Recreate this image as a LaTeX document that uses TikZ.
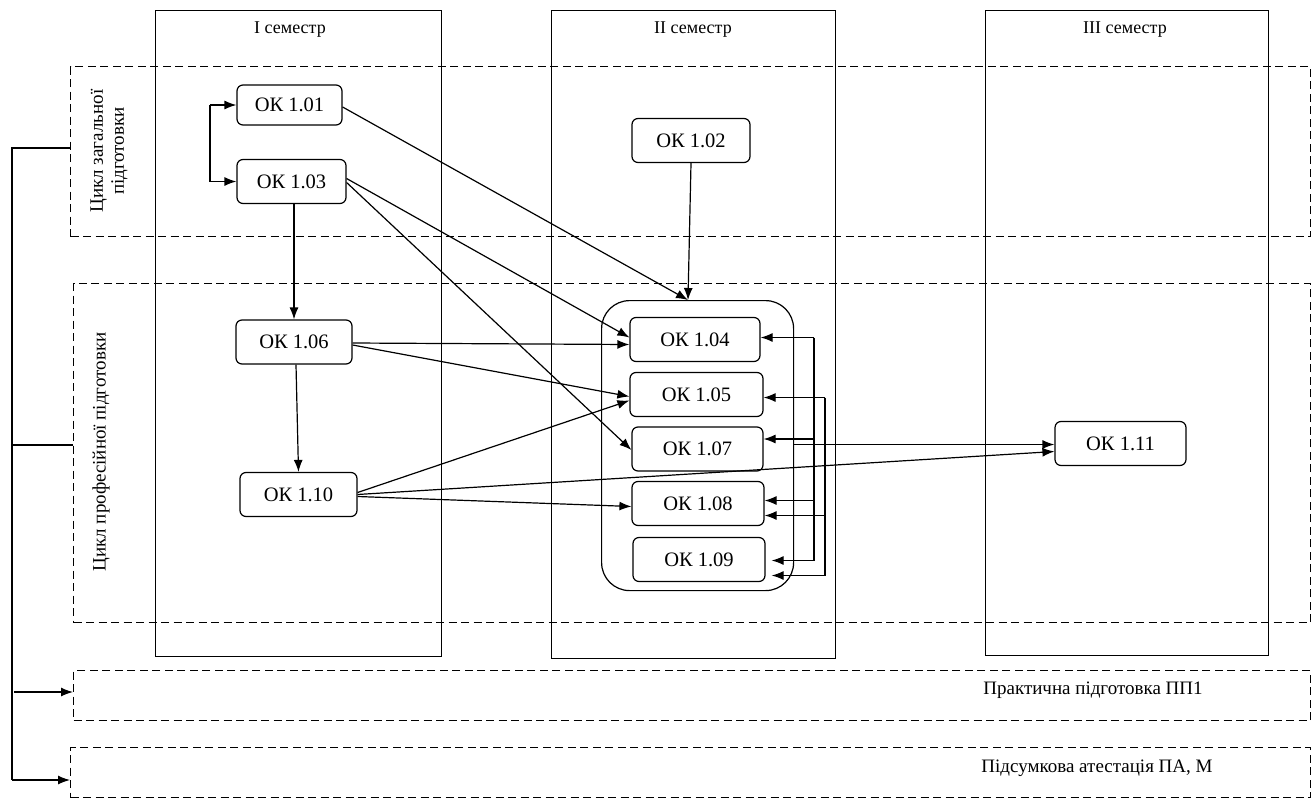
\documentclass[tikz,border=0pt]{standalone}
\usepackage{fontspec}
\setmainfont{Liberation Serif}
\usetikzlibrary{arrows.meta}
\begin{document}
\begin{tikzpicture}[x=1pt,y=-1pt,
  line width=1.2pt,
  every node/.style={font=\fontsize{19}{21}\selectfont},
  ok/.style={draw, rounded corners=6pt, fill=white, minimum height=44, inner sep=0pt, font=\fontsize{20.5}{23}\selectfont},
  col/.style={draw, anchor=north west, inner sep=0pt},
  dbox/.style={draw, dash pattern=on 8pt off 4.5pt, anchor=north west, inner sep=0pt},
  arr/.style={-{Latex[length=12pt,width=9pt]}},
  lbl/.style={inner sep=0pt}]
\useasboundingbox (0,0) rectangle (1315,798);
% semester columns
\node[col, minimum width=286, minimum height=646] (c1) at (155,10) {};
\node[col, minimum width=284, minimum height=648] (c2) at (551,10) {};
\node[col, minimum width=283, minimum height=645] (c3) at (985,10) {};
\node[lbl, font=\fontsize{18}{21}\selectfont] (t1) at (290,30) {I семестр};
\node[lbl, font=\fontsize{18}{21}\selectfont] (t2) at (693,30) {II семестр};
\node[lbl, font=\fontsize{18}{21}\selectfont] (t3) at (1125,30) {III семестр};
% dashed cycle boxes
\node[dbox, minimum width=1240, minimum height=170] (gen) at (70,66) {};
\node[dbox, minimum width=1237, minimum height=339] (prof) at (73,283) {};
\node[dbox, minimum width=1237, minimum height=50] (prac) at (73,670) {};
\node[dbox, minimum width=1240, minimum height=50] (fin) at (70,747) {};
\node[lbl, rotate=90, align=center] (lg) at (109,151) {Цикл загальної\\підготовки};
\node[lbl, rotate=90] (lp) at (101,452) {Цикл професійної підготовки};
\node[lbl] (tp) at (1093,690) {Практична підготовка ПП1};
\node[lbl] (tf) at (1097,768) {Підсумкова атестація ПА, М};
% container
\node[draw, rounded corners=28pt, anchor=north west, minimum width=192, minimum height=290, inner sep=0pt] (cont) at (601,300) {};
% course nodes
\node[ok, minimum width=105, minimum height=40] (o101) at (289.5,105) {ОК 1.01};
\node[ok, minimum width=109] (o103) at (291.5,181.5) {ОК 1.03};
\node[ok, minimum width=118] (o102) at (691,140.5) {ОК 1.02};
\node[ok, minimum width=116] (o106) at (294,342) {ОК 1.06};
\node[ok, minimum width=117] (o110) at (298.5,494.5) {ОК 1.10};
\node[ok, minimum width=130] (o104) at (695,339.5) {ОК 1.04};
\node[ok, minimum width=133] (o105) at (696.5,394.5) {ОК 1.05};
\node[ok, minimum width=131] (o107) at (697.5,449) {ОК 1.07};
\node[ok, minimum width=132] (o108) at (698,503.5) {ОК 1.08};
\node[ok, minimum width=132] (o109) at (699,559.5) {ОК 1.09};
\node[ok, minimum width=131] (o111) at (1120.5,443.5) {ОК 1.11};
% helper coordinates
\coordinate (ctop) at (688,300);
\coordinate (lp1) at (210,0);
\coordinate (v1) at (814,0);
\coordinate (v2) at (825,0);
\coordinate (bt) at (12,148);
\coordinate (bm) at (12,445);
\coordinate (bp) at (14,692);
\coordinate (bb) at (12,780);
% loop 1.01 / 1.03
\draw[arr] (o101.west -| lp1) -- (o101.west);
\draw[arr] (o101.west -| lp1) -- (o103.west -| lp1) -- (o103.west);
% edges
\draw[arr] ([yshift=-2]o101.east) -- (ctop);
\draw[arr] (o102.south) -- (ctop);
\draw[arr] ([yshift=3]o103.east) -- ([yshift=2]o104.west);
\draw[arr] ([yshift=-1]o103.east) -- ([yshift=-1]o107.west);
\draw[arr] (o103.south -| o106.north) -- (o106.north);
\draw[arr] ([xshift=2]o106.south) -- (o110.north);
\draw[arr] ([yshift=-1]o106.east) -- ([yshift=-5]o104.west);
\draw[arr] ([yshift=-3]o106.east) -- ([yshift=-2]o105.west);
\draw[arr] ([yshift=2]o110.east) -- ([yshift=-6]o105.west);
\draw[arr] ([yshift=-2]o110.east) -- ([yshift=-3]o108.west);
\draw[arr] (o110.east) -- ([yshift=-8]o111.west);
\draw[arr] ([yshift=-1]o111.west -| cont.east) -- ([yshift=-1]o111.west);
% right feedback lines
\draw ([yshift=2]o104.east -| v1) -- ([yshift=-1]o109.east -| v1);
\draw ([yshift=-3]o105.east -| v2) -- ([yshift=-16]o109.east -| v2);
\draw[arr] ([yshift=2]o104.east -| v1) -- ([yshift=2]o104.east);
\draw[arr] ([yshift=10]o107.east -| v1) -- ([yshift=10]o107.east);
\draw[arr] ([yshift=3]o108.east -| v1) -- ([yshift=3]o108.east);
\draw[arr] ([yshift=-1]o109.east -| v1) -- ([xshift=6,yshift=-1]o109.east);
\draw[arr] ([yshift=-3]o105.east -| v2) -- ([yshift=-3]o105.east);
\draw[arr] ([yshift=-12]o108.east -| v2) -- ([yshift=-12]o108.east);
\draw[arr] ([yshift=-16]o109.east -| v2) -- ([xshift=6,yshift=-16]o109.east);
% left bracket
\draw (gen.west |- bt) -- (bt) -- (bb);
\draw (prof.west |- bm) -- (bm);
\draw[arr] (bp) -- (prac.west |- bp);
\draw[arr] (bb) -- (fin.west |- bb);
\end{tikzpicture}
\end{document}
